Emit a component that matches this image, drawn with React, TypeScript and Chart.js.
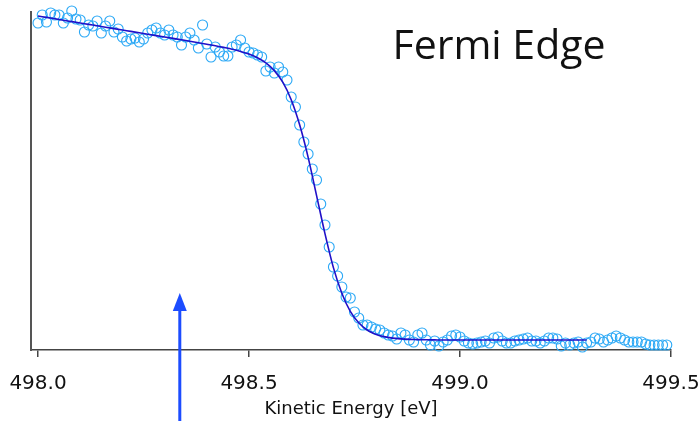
import React, { useEffect, useRef } from "react";
import { Chart, registerables } from "chart.js";

Chart.register(...registerables);

// ---- data ----
const ENERGY_START = 498.0; // eV, first sample
const DATA_STEP = 0.01; // eV between measured samples
const FIT_STEP = 0.02; // eV between fit samples

// measured intensity (arbitrary units), one value per 0.01 eV from 498.00
const MEASURED: number[] = [
  327, 335, 328, 337, 335, 335, 327, 332, 339, 331,
  330, 318, 325, 324, 329, 317, 324, 329, 318, 321,
  313, 309, 311, 312, 308, 311, 317, 320, 322, 317,
  315, 320, 315, 313, 305, 313, 317, 310, 302, 325,
  306, 293, 303, 298, 294, 294, 303, 305, 310, 302,
  298, 297, 295, 293, 279, 283, 277, 283, 278, 270,
  253, 243, 225, 208, 196, 181, 170, 146, 125, 103,
  83, 74, 63, 53, 52, 38, 32, 25, 25, 23,
  21, 20, 17, 15, 14, 11, 17, 15, 10, 8,
  15, 17, 10, 5, 9, 4, 8, 10, 14, 15,
  13, 9, 7, 6, 7, 8, 9, 7, 12, 13,
  9, 7, 7, 9, 10, 11, 12, 9, 9, 7,
  9, 12, 12, 11, 4, 7, 5, 7, 8, 3,
  7, 8, 12, 11, 8, 10, 12, 14, 12, 10,
  8, 8, 8, 8, 6, 5, 5, 5, 5, 5,
];

// fitted Fermi edge, one value per 0.02 eV from 498.00 to 499.30
const FIT: number[] = [
  334, 332.6, 331.2, 329.8, 328.4, 327.0, 325.6, 324.2, 322.8, 321.4,
  320.0, 318.6, 317.2, 315.8, 314.4, 313.0, 311.6, 310.2, 308.7, 307.3,
  305.8, 304.3, 302.6, 300.8, 298.6, 295.9, 292.3, 287.1, 279.4, 267.8,
  250.3, 225.2, 192.9, 154.7, 116.4, 82.4, 56.7, 38.6, 27.2, 20.0,
  15.8, 13.4, 11.9, 11.1, 10.6, 10.4, 10.2, 10.1, 10, 10,
  10, 10, 10, 10, 10, 10, 10, 10, 10, 10,
  10, 10, 10, 10, 10, 10,
];

const X_TICKS: number[] = [498.0, 498.5, 499.0, 499.5];
const X_MIN = 497.9834;
const X_MAX = 499.5;
const Y_MIN = 0;
const Y_MAX = 338;

const ARROW_ENERGY = 498.336;
const ARROW_TIP = 57;

const TITLE = "Fermi Edge";
const X_LABEL = "Kinetic Energy [eV]";

const overlayPlugin = {
  id: "overlay",
  afterDraw(chart: any) {
    const { ctx, scales, chartArea } = chart;
    const xs = scales.x;
    const ys = scales.y;
    ctx.save();
    // title text inside plot
    ctx.fillStyle = "#111111";
    ctx.font = '41px "Open Sans"';
    ctx.textAlign = "center";
    ctx.textBaseline = "alphabetic";
    ctx.fillText(TITLE, chartArea.left + 468, chartArea.top + 47);

    // arrow
    const ax = xs.getPixelForValue(ARROW_ENERGY);
    const tip = ys.getPixelForValue(ARROW_TIP);
    ctx.strokeStyle = "#1c4cff";
    ctx.fillStyle = "#1c4cff";
    ctx.lineWidth = 3;
    ctx.beginPath();
    ctx.moveTo(ax, chart.height);
    ctx.lineTo(ax, tip + 14);
    ctx.stroke();
    ctx.beginPath();
    ctx.moveTo(ax, tip);
    ctx.lineTo(ax - 7, tip + 18);
    ctx.lineTo(ax + 7, tip + 18);
    ctx.closePath();
    ctx.fill();
    ctx.restore();
  },
};

export default function App() {
  const canvasRef = useRef<HTMLCanvasElement | null>(null);

  useEffect(() => {
    if (!canvasRef.current) return;
    const measuredPts = MEASURED.map((v, i) => ({
      x: +(ENERGY_START + i * DATA_STEP).toFixed(2),
      y: v,
    }));
    const fitPts = FIT.map((v, i) => ({
      x: +(ENERGY_START + i * FIT_STEP).toFixed(2),
      y: v,
    }));

    const chart = new Chart(canvasRef.current, {
      type: "line",
      data: {
        datasets: [
          {
            label: "fit",
            data: fitPts,
            borderColor: "#2010c8",
            borderWidth: 1.6,
            pointRadius: 0,
            cubicInterpolationMode: "monotone",
            fill: false,
            order: 0,
          },
          {
            label: "data",
            data: measuredPts,
            showLine: false,
            pointRadius: 5,
            pointBorderWidth: 1.1,
            pointBorderColor: "#2aa8f6",
            pointBackgroundColor: "rgba(255,255,255,0)",
            clip: false,
            order: 1,
          } as any,
        ],
      },
      options: {
        animation: false,
        responsive: false,
        devicePixelRatio: 1,
        layout: { padding: { top: 12, right: 28, left: 0, bottom: 0 } },
        plugins: { legend: { display: false }, tooltip: { enabled: false } },
        scales: {
          x: {
            type: "linear",
            min: X_MIN,
            max: X_MAX,
            afterBuildTicks: (s: any) => {
              s.ticks = X_TICKS.map((v) => ({ value: v }));
            },
            afterFit: (s: any) => {
              s.height = 71;
              s.paddingLeft = 0;
              s.paddingRight = 0;
            },
            ticks: {
              callback: (v: any) => Number(v).toFixed(1),
              color: "#111111",
              font: { family: "DejaVu Sans", size: 20 },
              padding: 15,
              maxRotation: 0,
              autoSkip: false,
            },
            grid: {
              drawOnChartArea: false,
              drawTicks: true,
              tickLength: 7,
              color: "#444444",
              lineWidth: 1.5,
            },
            border: { display: true, color: "#444444", width: 1.5 },
            title: {
              display: true,
              text: X_LABEL,
              color: "#111111",
              font: { family: "DejaVu Sans", size: 18 },
              padding: { top: 0, bottom: 1 },
            },
          },
          y: {
            type: "linear",
            min: Y_MIN,
            max: Y_MAX,
            afterFit: (s: any) => {
              s.width = 31;
            },
            ticks: { display: false },
            grid: { display: false },
            border: { display: true, color: "#555555", width: 2 },
          },
        },
      } as any,
      plugins: [overlayPlugin],
    });
    return () => chart.destroy();
  }, []);

  return (
    <div
      style={{
        position: "fixed",
        left: 0,
        top: 0,
        width: 699,
        height: 421,
        background: "#ffffff",
      }}
    >
      <canvas ref={canvasRef} width={699} height={421} />
    </div>
  );
}
